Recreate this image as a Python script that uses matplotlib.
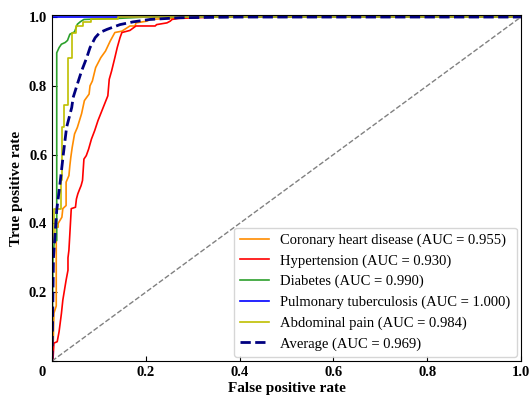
import matplotlib
matplotlib.use('Agg')
import matplotlib.pyplot as plt
from matplotlib.ticker import FuncFormatter
from matplotlib.transforms import ScaledTranslation

plt.rcParams['font.family'] = 'Liberation Serif'

# ROC points per diagnosis (fpr, tpr)
chd_fpr = [0, 0.002, 0.004, 0.009, 0.009, 0.013, 0.013, 0.021, 0.023, 0.030, 0.030, 0.036, 0.038, 0.040,
           0.043, 0.048, 0.054, 0.063, 0.069, 0.079, 0.081, 0.086, 0.093, 0.104, 0.114, 0.124, 0.134,
           0.149, 0.166, 0.177, 0.179, 0.202, 0.209, 0.30, 1.0]
chd_tpr = [0, 0.02, 0.139, 0.16, 0.389, 0.389, 0.40, 0.418, 0.443, 0.452, 0.52, 0.539, 0.568, 0.592,
           0.621, 0.66, 0.679, 0.719, 0.757, 0.776, 0.80, 0.814, 0.853, 0.882, 0.901, 0.93, 0.955,
           0.959, 0.974, 0.974, 0.983, 0.988, 0.993, 1.0, 1.0]

htn_fpr = [0, 0.002, 0.004, 0.011, 0.015, 0.020, 0.023, 0.030, 0.034, 0.034, 0.036, 0.038, 0.041, 0.050,
           0.052, 0.055, 0.059, 0.062, 0.065, 0.068, 0.073, 0.078, 0.084, 0.091, 0.098, 0.105, 0.112,
           0.119, 0.122, 0.127, 0.134, 0.139, 0.145, 0.149, 0.166, 0.179, 0.220, 0.223, 0.245, 0.252,
           0.256, 0.269, 0.348, 1.0]
htn_tpr = [0, 0.003, 0.052, 0.056, 0.085, 0.138, 0.177, 0.235, 0.264, 0.30, 0.322, 0.37, 0.443, 0.447,
           0.471, 0.486, 0.50, 0.51, 0.525, 0.587, 0.597, 0.616, 0.645, 0.67, 0.699, 0.723, 0.747,
           0.771, 0.819, 0.843, 0.882, 0.911, 0.94, 0.955, 0.961, 0.974, 0.974, 0.978, 0.983, 0.988,
           0.993, 0.996, 1.0, 1.0]

dm_fpr = [0, 0.002, 0.005, 0.010, 0.010, 0.015, 0.020, 0.028, 0.033, 0.038, 0.048, 0.054, 0.060, 0.068,
          0.14, 0.2, 1.0]
dm_tpr = [0, 0.3, 0.35, 0.35, 0.896, 0.911, 0.921, 0.926, 0.932, 0.950, 0.957, 0.979, 0.986, 0.993,
          0.996, 1.0, 1.0]

tb_fpr = [0, 0, 1.0]
tb_tpr = [0, 1.0, 1.0]

ap_fpr = [0, 0, 0.004, 0.004, 0.019, 0.019, 0.022, 0.022, 0.026, 0.026, 0.035, 0.035, 0.043, 0.043,
          0.051, 0.051, 0.066, 0.066, 0.083, 0.083, 0.141, 0.141, 1.0]
ap_tpr = [0, 0.35, 0.35, 0.443, 0.443, 0.525, 0.525, 0.681, 0.681, 0.745, 0.745, 0.882, 0.882, 0.955,
          0.955, 0.975, 0.975, 0.985, 0.985, 0.994, 0.994, 1.0, 1.0]

avg_fpr = [0, 0.003, 0.010, 0.017, 0.024, 0.031, 0.042, 0.045, 0.054, 0.063, 0.074, 0.081, 0.092,
           0.102, 0.117, 0.145, 0.173, 0.209, 0.273, 0.40, 1.0]
avg_tpr = [0, 0.3, 0.438, 0.516, 0.6, 0.679, 0.737, 0.766, 0.805, 0.843, 0.882, 0.911, 0.94,
           0.955, 0.964, 0.978, 0.986, 0.993, 0.998, 1.0, 1.0]

labels = ['Coronary heart disease', 'Hypertension', 'Diabetes', 'Pulmonary tuberculosis', 'Abdominal pain']
aucs = [0.955, 0.930, 0.990, 1.000, 0.984]
avg_auc = 0.969
colors = ['darkorange', 'red', 'tab:green', 'blue', 'y']
ticks = [0, 0.2, 0.4, 0.6, 0.8, 1.0]

curves = [(chd_fpr, chd_tpr), (htn_fpr, htn_tpr), (dm_fpr, dm_tpr), (tb_fpr, tb_tpr), (ap_fpr, ap_tpr)]

fig = plt.figure(figsize=(5.31, 4.01), dpi=100)
ax = fig.add_axes([0.098, 0.0998, 0.883, 0.862])

for (fpr, tpr), name, auc, c in zip(curves, labels, aucs, colors):
    ax.plot(fpr, tpr, color=c, lw=1.2, label=f'{name} (AUC = {auc:.3f})')
ax.plot(avg_fpr, avg_tpr, color='navy', lw=2, ls='--', label=f'Average (AUC = {avg_auc:.3f})')
ax.plot([0, 1], [0, 1], color='gray', lw=1, ls='--')

ax.set_xlim(0, 1)
ax.set_ylim(0, 1.005)
ax.set_xticks(ticks)
ax.set_yticks(ticks)
# shared origin: one "0" at the corner, none on the y axis
ax.xaxis.set_major_formatter(FuncFormatter(lambda v, p: '0' if v == 0 else f'{v:.1f}'))
ax.yaxis.set_major_formatter(FuncFormatter(lambda v, p: '' if v == 0 else f'{v:.1f}'))
ax.tick_params(direction='in', labelsize=10.5)
for t in ax.get_xticklabels() + ax.get_yticklabels():
    t.set_fontweight('bold')
x0 = ax.get_xticklabels()[0]
x0.set_transform(x0.get_transform() + ScaledTranslation(-7 / 72, 0, fig.dpi_scale_trans))

ax.set_xlabel('False positive rate', fontsize=11, fontweight='bold', labelpad=2)
ax.set_ylabel('True positive rate', fontsize=11, fontweight='bold')
ax.legend(loc='lower right', fontsize=10.5, borderaxespad=0.3)

fig.savefig('out.png', dpi=100)
